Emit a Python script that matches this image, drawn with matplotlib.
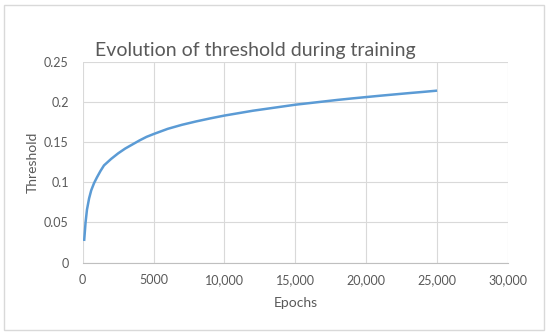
import matplotlib
matplotlib.use("Agg")
import matplotlib.pyplot as plt
from matplotlib.patches import Rectangle

# values
epochs = [100, 200, 300, 450, 600, 800, 1000, 1250, 1500, 2000, 2500, 3000,
          3500, 4000, 4500, 5000, 6000, 7000, 8000, 9000, 10000, 11000, 12000,
          13000, 14000, 15000, 16000, 17000, 18000, 19000, 20000, 21000,
          22000, 23000, 24000, 25000]
threshold = [0.027, 0.050, 0.066, 0.080, 0.090, 0.099, 0.106, 0.114, 0.121,
             0.129, 0.136, 0.142, 0.147, 0.152, 0.1565, 0.160, 0.1665, 0.1715,
             0.1757, 0.1795, 0.183, 0.186, 0.189, 0.1915, 0.194, 0.1965,
             0.1985, 0.2005, 0.2025, 0.2043, 0.206, 0.2077, 0.2093, 0.2109,
             0.2124, 0.214]

x_ticks = [0, 5000, 10000, 15000, 20000, 25000, 30000]
x_tick_labels = ['0', '5000', '10,000', '15,000', '20,000', '25,000', '30,000']
y_ticks = [0, 0.05, 0.1, 0.15, 0.2, 0.25]
y_tick_labels = ['0', '0.05', '0.1', '0.15', '0.2', '0.25']

plt.rcParams['font.family'] = ['Lato', 'DejaVu Sans']
grey = '#595959'

fig = plt.figure(figsize=(5.5, 3.34), dpi=100)
ax = fig.add_axes([0.1504, 0.2135, 0.7732, 0.6018])

# outer chart border
fig.patches.append(Rectangle((4 / 550, 4 / 334), 540 / 550, 325 / 334,
                             transform=fig.transFigure, fill=False,
                             edgecolor='#d9d9d9', linewidth=1))

ax.plot(epochs, threshold, color='#5b9bd5', linewidth=1.8,
        solid_capstyle='butt', solid_joinstyle='round', zorder=3)

ax.set_xlim(0, 30000)
ax.set_ylim(0, 0.25)
ax.set_xticks(x_ticks)
ax.set_xticklabels(x_tick_labels)
ax.set_yticks(y_ticks)
ax.set_yticklabels(y_tick_labels)
ax.tick_params(length=0, labelsize=9, labelcolor=grey, pad=8)
ax.tick_params(axis='y', pad=10)
ax.grid(True, color='#d9d9d9', linewidth=0.8)
for side in ['top', 'right', 'left']:
    ax.spines[side].set_visible(False)
ax.spines['bottom'].set_color('#bfbfbf')
ax.spines['bottom'].set_linewidth(0.8)

ax.set_xlabel('Epochs', fontsize=10, color=grey, labelpad=8)
ax.set_ylabel('Threshold', fontsize=10, color=grey, labelpad=4)
fig.text(0.464, 0.848, 'Evolution of threshold during training',
         fontsize=14, color=grey, ha='center', va='center')

fig.savefig('out.png', dpi=100)
